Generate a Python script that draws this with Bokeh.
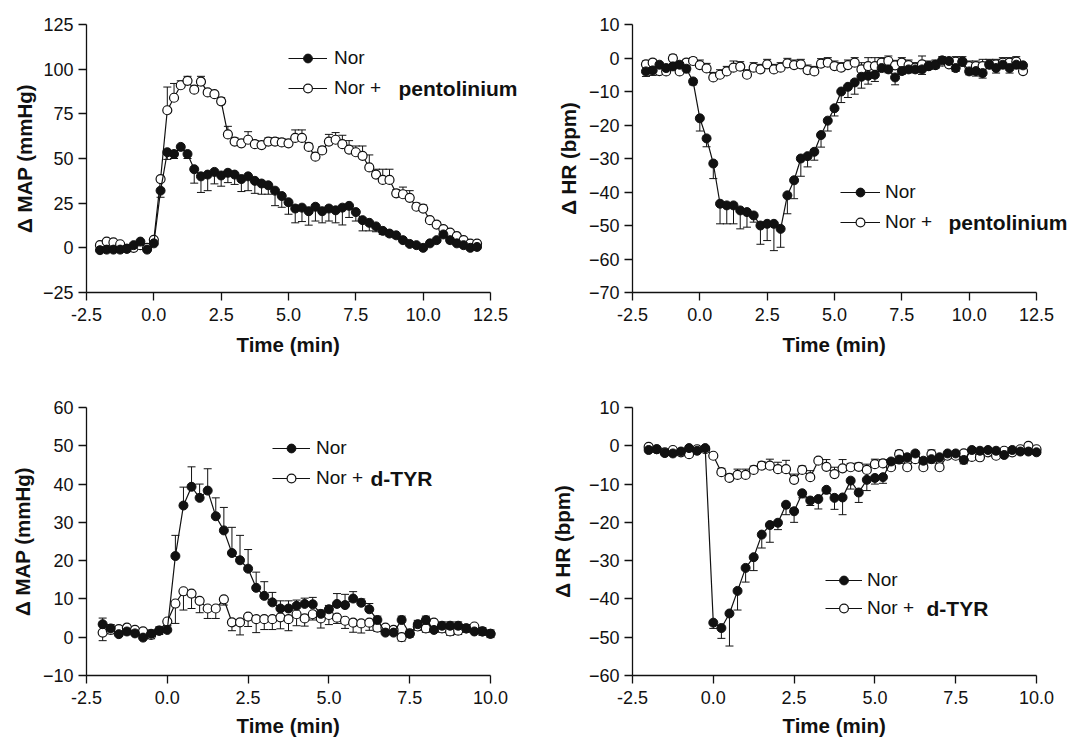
from bokeh.plotting import figure
from bokeh.models import (Range1d, FixedTicker, NumeralTickFormatter, Whisker, TeeHead,
                          ColumnDataSource, Legend, LegendItem, Label, Title)
from bokeh.layouts import column, row
from bokeh.embed import file_html
from bokeh.resources import INLINE

# ---------------- data ----------------
T_TOP = [-2.0, -1.75, -1.5, -1.25, -1.0, -0.75, -0.5, -0.25, 0.0, 0.25, 0.5, 0.75, 1.0, 1.25,
         1.5, 1.75, 2.0, 2.25, 2.5, 2.75, 3.0, 3.25, 3.5, 3.75, 4.0, 4.25, 4.5, 4.75, 5.0, 5.25,
         5.5, 5.75, 6.0, 6.25, 6.5, 6.75, 7.0, 7.25, 7.5, 7.75, 8.0, 8.25, 8.5, 8.75, 9.0, 9.25,
         9.5, 9.75, 10.0, 10.25, 10.5, 10.75, 11.0, 11.25, 11.5, 11.75, 12.0]
T_BOT = [-2.0, -1.75, -1.5, -1.25, -1.0, -0.75, -0.5, -0.25, 0.0, 0.25, 0.5, 0.75, 1.0, 1.25,
         1.5, 1.75, 2.0, 2.25, 2.5, 2.75, 3.0, 3.25, 3.5, 3.75, 4.0, 4.25, 4.5, 4.75, 5.0, 5.25,
         5.5, 5.75, 6.0, 6.25, 6.5, 6.75, 7.0, 7.25, 7.5, 7.75, 8.0, 8.25, 8.5, 8.75, 9.0, 9.25,
         9.5, 9.75, 10.0]

# Panel A: MAP, Nor vs Nor + pentolinium
MAP_NOR_A = [-1.3, -1, -1, -1, -0.5, 1.5, 3.5, -1, 2.5, 32, 53.5, 52.5, 56.5, 52.5, 44, 40, 41,
             42.5, 40.5, 42, 41, 38.5, 40, 37.5, 36, 35, 32, 29, 25.5, 22, 22.5, 20.5, 23, 20.5,
             22, 21, 22.5, 23.5, 20, 15.5, 14, 12, 9.5, 8, 7, 4.3, 2.2, 1.5, 0, 2.5, 4.3, 7.5,
             4.3, 2.5, 1.5, 0, 0.5]
MAP_NOR_A_SEM = [0.8, 0.8, 0.8, 0.8, 0.8, 0.8, 0.8, 0.8, 1, 3.7, 4, 2.5, 2, 2.5, 7.8, 9, 9, 6.7,
                 6, 5.5, 5.5, 7, 8, 7, 6, 5, 8.4, 6.3, 6.7, 8, 7.8, 7.8, 8, 6.5, 7, 7, 9.7, 6.5,
                 5, 6, 4.5, 3, 2, 1.5, 1.5, 1, 1, 1, 1, 1, 1, 1.5, 1.5, 1, 1, 1, 1]
MAP_PENT = [1.5, 3.5, 3, 2, -0.5, 0, 1.5, 0, 4.5, 38.5, 77, 84, 91, 93.5, 88.5, 93, 87, 86, 82,
            63.5, 59.5, 58.5, 60.5, 58, 57.5, 59.5, 59.5, 59, 58.5, 61.5, 61.5, 56.5, 51, 54.5,
            59.5, 60.5, 58, 55, 53.5, 51.5, 45, 41, 38, 38, 30.5, 30, 28, 23, 22, 15.5, 13, 10.5,
            8.5, 6.5, 4.3, 2.4, 2.4]
MAP_PENT_SEM = [1, 1, 1, 1, 1, 1, 1, 1, 1, 1.5, 13, 8, 2.5, 2.5, 1.5, 3, 1.5, 1.5, 2, 4.5, 2, 2,
                4.5, 2, 2, 2, 2, 2, 2, 4.5, 4.5, 2, 2, 2, 4, 4, 5, 5, 3.5, 5.5, 7, 3, 6, 6, 2, 4,
                4, 2, 2, 1.5, 1.5, 1.5, 1.5, 1, 1, 1, 1]

# Panel B: HR, Nor vs Nor + pentolinium
HR_NOR_B = [-4, -3.7, -2, -3, -2.5, -2, -3.2, -7, -18, -24, -31.5, -43.5, -44, -44, -45.5, -46,
            -47, -50, -49.5, -49.5, -51, -41, -36.5, -30, -29.3, -28, -23, -18.7, -15, -10, -8.6,
            -7.3, -5.6, -5.3, -5, -3, -3.4, -5.8, -3.9, -3.4, -3.4, -3.4, -2.4, -2, -0.7, -0.9,
            -3, -1.2, -4, -3.9, -4.5, -2, -3, -2, -3, -2, -2.2]
HR_NOR_B_SEM = [1.5, 1.5, 1, 1, 1, 1, 1, 1, 3.8, 2.5, 4.5, 6, 5.5, 5.5, 5.5, 4.5, 2, 5.6, 5, 8,
                5.5, 5.5, 5.5, 5.3, 3.2, 2.5, 3.6, 3.1, 2.3, 3.3, 3.2, 3.5, 3.4, 2.5, 2, 1, 1,
                2.2, 1, 1, 1, 1.5, 1, 1, 1, 1, 1, 1, 1, 1.5, 1.5, 1, 1.5, 1, 1.5, 1, 1]
HR_PENT = [-1.9, -1.4, -3.9, -4, -0.1, -4, -1.4, -0.9, -2.1, -3.1, -5.8, -5, -4, -2.9, -2.6, -5,
           -2.9, -3.4, -1.9, -3.4, -2.9, -1.6, -2.1, -1.9, -3.6, -4, -1.7, -1.4, -2.4, -2.9,
           -2.1, -1.4, -3.4, -2.4, -2.4, -1.4, -0.9, -2.2, -1.4, -2.1, -2.9, -1.9, -2.4, -2.1,
           -1.1, -1.9, -1.1, -1.1, -2.4, -2.4, -2.4, -1.9, -1.9, -1.4, -1.4, -1.1, -3.9]
HR_PENT_SEM = [1, 1, 1, 1, 1, 1, 1, 1, 1.5, 1.5, 1.5, 1.5, 1.5, 2, 1.5, 1.5, 1.5, 1.5, 1.5, 1.5,
               1.5, 1.5, 1.5, 1.5, 1.5, 1.5, 1.5, 1.5, 1.5, 1.5, 1.5, 1.5, 2, 2.5, 2.5, 1.5, 1.5,
               1.5, 1.5, 1.5, 1.5, 2.5, 1.5, 1.5, 1.5, 1.5, 1.5, 1.5, 1.5, 1.5, 2, 1.5, 1.5, 1.5,
               1.5, 1.5, 1.5]

# Panel C: MAP, Nor vs Nor + d-TYR
MAP_NOR_C = [3.4, 2.3, 0.8, 1.5, 1.0, -0.1, 0.9, 1.7, 1.9, 21.2, 34.4, 39.3, 36.4, 38.3, 31.6,
             27.9, 22, 20.1, 17.9, 12.9, 10.8, 9.1, 7.5, 7.5, 8.2, 8.7, 8.6, 6.1, 7.3, 8.7, 8.4,
             10.1, 9.0, 7.3, 4.5, 1.2, 1.2, 4.5, 0.9, 3.4, 4.5, 1.9, 3, 3, 3, 2.3, 1.5, 1.5, 0.9]
MAP_NOR_C_SEM = [1.6, 1, 1, 1, 1, 1, 1, 1, 1, 5.4, 4.8, 5.2, 3.6, 5.7, 4.8, 6, 6.7, 6.5, 5, 4.1,
                 3.7, 2.6, 2, 2, 1.5, 1.5, 1.8, 1, 1, 2.7, 2.8, 1.8, 1, 1.5, 1, 1, 1, 1, 1, 1, 1,
                 1, 1, 1, 1, 1, 1, 1, 1]
MAP_DTYR = [1.2, 1.9, 2.1, 2.5, 1.9, 1.5, 0.6, 1.7, 4.1, 8.8, 12, 11.4, 9.5, 7.5, 7.5, 9.9, 3.9,
            3.9, 5.4, 4.7, 4.7, 4.7, 5.2, 4.7, 6, 4.9, 6, 4.9, 5.8, 5.1, 4.3, 3.8, 3.6, 3.8, 2.5,
            2.5, 1.9, 0, 1, 2.8, 2.3, 3.8, 2.3, 1.5, 1.7, 2.3, 2.8, 1.5, 0.9]
MAP_DTYR_SEM = [2.1, 1, 1, 1, 1, 1, 1, 1, 1, 5.2, 4.9, 3.9, 3.1, 2.6, 2.6, 1.5, 2.2, 3.3, 2.6, 3.5,
                2.7, 2.7, 3, 3, 3, 2, 1.5, 2.5, 2.5, 1.5, 2, 2.5, 2.5, 2, 1, 1, 1, 1, 1, 1, 1, 1,
                1, 1, 1, 1, 1, 1, 1]

# Panel D: HR, Nor vs Nor + d-TYR
HR_NOR_D = [-1.1, -0.9, -1.9, -2, -1.5, -0.6, -1.3, -0.6, -46.2, -47.6, -43.8, -37.9, -31.9,
            -29.1, -23.2, -20.7, -20.1, -15.4, -17.1, -12.4, -14.3, -13.9, -11.5, -13.6, -13.5,
            -9.1, -12.2, -8.9, -8.4, -8.2, -4.1, -3.6, -3, -2, -3.9, -3.5, -3, -2, -2, -3.7,
            -1.1, -1.3, -1.1, -1.3, -2.4, -1.1, -1.5, -1.5, -1.7]
HR_NOR_D_SEM = [0.5, 0.5, 0.5, 0.5, 0.5, 0.5, 0.5, 0.5, 1.5, 2.7, 8.5, 5, 3.7, 3.5, 3.5, 4.5, 1.8,
                2.6, 2.9, 1.2, 1.3, 2.6, 1, 3, 4.5, 2.2, 2.6, 2.8, 1.6, 1.6, 1, 1, 1, 1, 1, 1, 1,
                1, 1, 1, 0.5, 0.5, 0.5, 0.5, 0.5, 0.5, 0.5, 0.5, 0.5]
HR_DTYR = [-0.3, -0.9, -1.7, -1.1, -1.7, -2.2, -0.9, -0.9, -2.6, -6.9, -8.4, -7.6, -7.6, -6.3,
           -5.2, -5.2, -6.1, -6.1, -8.9, -6.3, -8.2, -3.9, -5.5, -7.4, -5.9, -5.6, -5.5, -6.3,
           -4.8, -4.6, -5.6, -2.2, -5.6, -3.5, -5.6, -2.2, -5.6, -2.6, -2.6, -2, -2.9, -3, -1.7,
           -2.6, -1.3, -1.7, -0.9, 0, -0.9]
HR_DTYR_SEM = [0.5, 0.5, 0.5, 0.5, 0.5, 0.5, 0.5, 0.5, 0.5, 1, 1, 1.5, 1.5, 1, 1, 1.7, 1.8, 2.3,
               1.5, 1, 1.7, 0.7, 1.9, 1.8, 2.3, 1, 1, 1.5, 1.3, 1, 1, 1, 1, 1, 1, 1.1, 1, 0.5,
               0.5, 0.5, 0.5, 0.5, 0.5, 0.5, 0.5, 0.5, 0.5, 0.5, 0.5]

X_TICKS_TOP = [-2.5, 0.0, 2.5, 5.0, 7.5, 10.0, 12.5]
X_TICKS_BOT = [-2.5, 0.0, 2.5, 5.0, 7.5, 10.0]
Y_TICKS_A = [-25, 0, 25, 50, 75, 100, 125]
Y_TICKS_B = [-70, -60, -50, -40, -30, -20, -10, 0, 10]
Y_TICKS_C = [-10, 0, 10, 20, 30, 40, 50, 60]
Y_TICKS_D = [-60, -50, -40, -30, -20, -10, 0, 10]

for arr in (MAP_NOR_A, MAP_NOR_A_SEM, MAP_PENT, MAP_PENT_SEM, HR_NOR_B, HR_NOR_B_SEM, HR_PENT, HR_PENT_SEM):
    assert len(arr) == len(T_TOP), len(arr)
for arr in (MAP_NOR_C, MAP_NOR_C_SEM, MAP_DTYR, MAP_DTYR_SEM, HR_NOR_D, HR_NOR_D_SEM, HR_DTYR, HR_DTYR_SEM):
    assert len(arr) == len(T_BOT), len(arr)

FONT = "Liberation Sans"
INK = "#111111"
AXIS_PX = 404  # on-screen length of each x axis line


def make_panel(width, height, b_left, b_top, b_bottom, xr, yr, xticks, yticks,
               ylabel, ylabel_standoff, xtitle_standoff):
    frame_w = width - b_left
    # the plot area runs on to the right edge (room for the legend text); the x axis
    # itself is bounded to its own range
    x_end = xr[0] + frame_w * (xr[1] - xr[0]) / AXIS_PX
    p = figure(width=width, height=height, x_range=Range1d(xr[0], x_end), y_range=Range1d(*yr),
               output_backend="svg", toolbar_location=None,
               min_border_left=b_left, min_border_right=0,
               min_border_top=b_top, min_border_bottom=b_bottom)
    p.frame_width = frame_w
    p.frame_height = height - b_top - b_bottom
    p.outline_line_color = None
    p.grid.visible = False
    p.background_fill_color = "white"
    p.border_fill_color = "white"
    p.xaxis.ticker = FixedTicker(ticks=xticks)
    p.xaxis.bounds = (xr[0], xr[1])
    p.xaxis.formatter = NumeralTickFormatter(format="0.0")
    p.yaxis.ticker = FixedTicker(ticks=yticks)
    for ax in (p.xaxis[0], p.yaxis[0]):
        ax.axis_line_color = INK
        ax.axis_line_width = 1.3
        ax.major_tick_line_color = INK
        ax.major_tick_line_width = 1.3
        ax.major_tick_out = 8
        ax.major_tick_in = 0
        ax.minor_tick_line_color = None
        ax.major_label_text_font = FONT
        ax.major_label_text_font_size = "18px"
        ax.major_label_text_color = INK
        ax.axis_label_text_font = FONT
        ax.axis_label_text_font_size = "20.5px"
        ax.axis_label_text_font_style = "bold"
        ax.axis_label_text_color = INK
    p.xaxis.major_label_standoff = 7
    p.yaxis.major_label_standoff = 5
    p.yaxis.axis_label = ylabel
    p.yaxis.axis_label_standoff = ylabel_standoff
    # x-axis title, centred under the bounded axis line
    p.add_layout(Title(text="Time (min)", align="left", offset=150, standoff=xtitle_standoff,
                       text_font=FONT, text_font_size="20.5px", text_font_style="bold",
                       text_color=INK), "below")
    return p


def add_series(p, t, y, sem, filled, err_dir):
    lo = [v - e for v, e in zip(y, sem)] if err_dir == "down" else list(y)
    hi = [v + e for v, e in zip(y, sem)] if err_dir == "up" else list(y)
    src = ColumnDataSource(dict(t=t, y=y, lo=lo, hi=hi))
    head = TeeHead(size=8, line_color=INK, line_width=1)
    if err_dir == "down":
        w = Whisker(source=src, base="t", upper="hi", lower="lo", upper_head=None, lower_head=head,
                    line_color=INK, line_width=1)
    else:
        w = Whisker(source=src, base="t", upper="hi", lower="lo", upper_head=head, lower_head=None,
                    line_color=INK, line_width=1)
    p.add_layout(w)
    ln = p.line("t", "y", source=src, line_color=INK, line_width=1.2)
    if filled:
        sc = p.scatter("t", "y", source=src, size=9, marker="circle", fill_color=INK,
                       line_color=INK, line_width=1)
    else:
        sc = p.scatter("t", "y", source=src, size=9, marker="circle", fill_color="white",
                       line_color=INK, line_width=1.2)
    return ln, sc


def add_legend(p, nor_r, drug_r, loc, glyph_w, spacing, standoff, drug_text, bold_xy):
    leg = Legend(items=[LegendItem(label="Nor", renderers=list(nor_r)),
                        LegendItem(label="Nor +", renderers=list(drug_r))],
                 location=loc, orientation="vertical", padding=0, margin=0, spacing=spacing,
                 glyph_width=glyph_w, glyph_height=22, label_height=22, label_standoff=standoff,
                 label_text_font=FONT, label_text_font_size="19px", label_text_color=INK,
                 border_line_color=None, background_fill_alpha=0)
    p.add_layout(leg)
    p.add_layout(Label(x=bold_xy[0], y=bold_xy[1], x_units="screen", y_units="screen",
                       text=drug_text, text_font=FONT, text_font_style="bold",
                       text_font_size="21px", text_color=INK, text_baseline="middle",
                       level="overlay"))


# Panel A
pA = make_panel(535, 370, 86, 24, 78, (-2.5, 12.5), (-25, 125), X_TICKS_TOP, Y_TICKS_A,
                "Δ MAP (mmHg)", 4, 14)
rA2 = add_series(pA, T_TOP, MAP_PENT, MAP_PENT_SEM, False, "up")
rA1 = add_series(pA, T_TOP, MAP_NOR_A, MAP_NOR_A_SEM, True, "down")
add_legend(pA, rA1, rA2, (202, 193), 39, 8, 7, "pentolinium", (312, 204))

# Panel B
pB = make_panel(536, 370, 97, 24, 78, (-2.5, 12.5), (-70, 10), X_TICKS_TOP, Y_TICKS_B,
                "Δ HR (bpm)", 6, 14)
rB2 = add_series(pB, T_TOP, HR_PENT, HR_PENT_SEM, False, "up")
rB1 = add_series(pB, T_TOP, HR_NOR_B, HR_NOR_B_SEM, True, "down")
add_legend(pB, rB1, rB2, (208, 59), 40, 8, 5, "pentolinium", (316, 70))

# Panel C
pC = make_panel(535, 368, 86, 37, 63, (-2.5, 10.0), (-10, 60), X_TICKS_BOT, Y_TICKS_C,
                "Δ MAP (mmHg)", 6, 10)
rC2 = add_series(pC, T_BOT, MAP_DTYR, MAP_DTYR_SEM, False, "down")
rC1 = add_series(pC, T_BOT, MAP_NOR_C, MAP_NOR_C_SEM, True, "up")
add_legend(pC, rC1, rC2, (186, 186), 38, 8, 6, "d-TYR", (284, 197))

# Panel D
pD = make_panel(536, 368, 97, 37, 63, (-2.5, 10.0), (-60, 10), X_TICKS_BOT, Y_TICKS_D,
                "Δ HR (bpm)", 12, 10)
rD2 = add_series(pD, T_BOT, HR_DTYR, HR_DTYR_SEM, False, "up")
rD1 = add_series(pD, T_BOT, HR_NOR_D, HR_NOR_D_SEM, True, "down")
add_legend(pD, rD1, rD2, (193, 56), 37, 6, 5, "d-TYR", (294, 67))

layout = column(row(pA, pB), row(pC, pD))
open("out.html", "w").write(file_html(layout, INLINE))
